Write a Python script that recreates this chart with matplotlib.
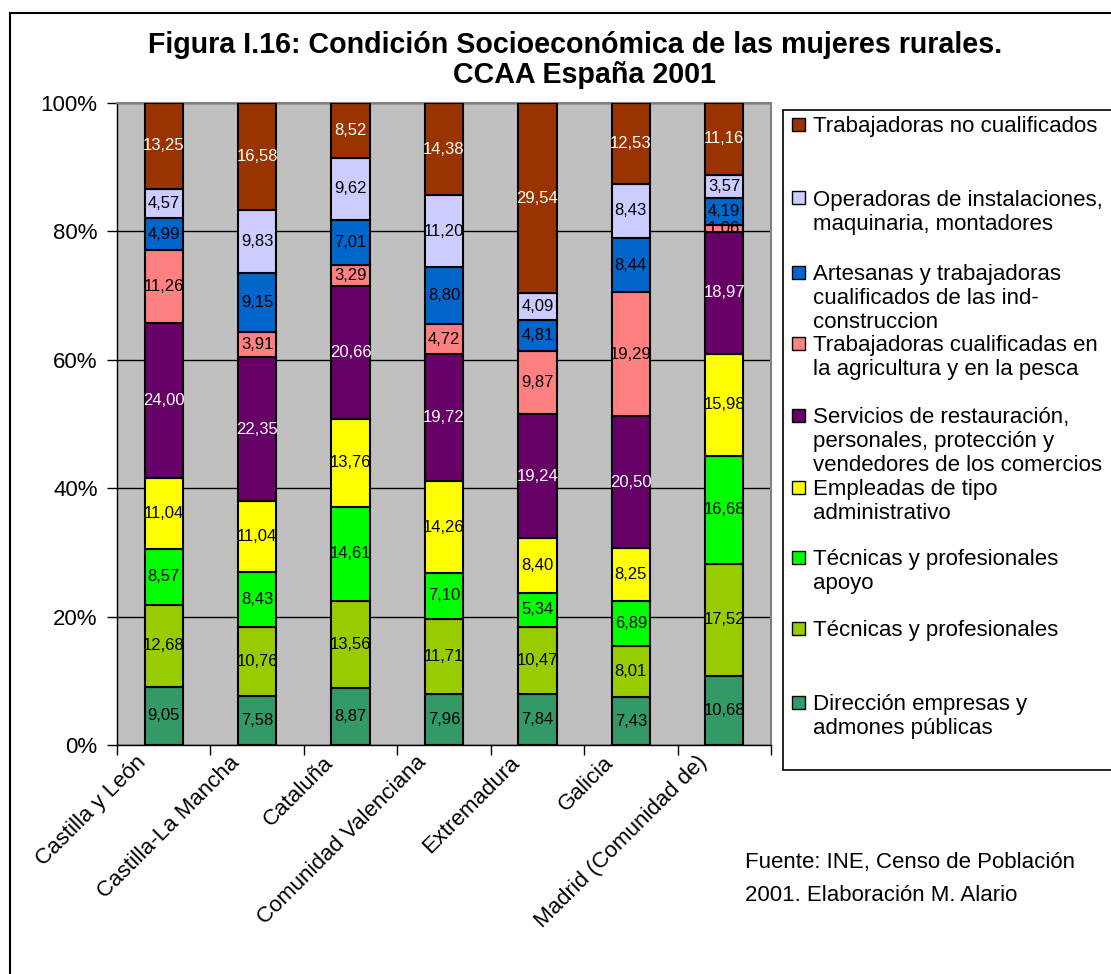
import matplotlib.pyplot as plt
import matplotlib.transforms as mtransforms
from matplotlib.patches import Rectangle
import numpy as np

plt.rcParams['font.family'] = ['Liberation Sans', 'DejaVu Sans']

# Data (bottom to top of each bar), values as printed on the chart
regiones = ['Castilla y León', 'Castilla-La Mancha', 'Cataluña', 'Comunidad Valenciana',
            'Extremadura', 'Galicia', 'Madrid (Comunidad de)']
direccion = [9.05, 7.58, 8.87, 7.96, 7.84, 7.43, 10.68]
tecnicas = [12.68, 10.76, 13.56, 11.71, 10.47, 8.01, 17.52]
tecnicas_apoyo = [8.57, 8.43, 14.61, 7.10, 5.34, 6.89, 16.68]
empleadas = [11.04, 11.04, 13.76, 14.26, 8.40, 8.25, 15.98]
servicios = [24.00, 22.35, 20.66, 19.72, 19.24, 20.50, 18.97]
agricultura = [11.26, 3.91, 3.29, 4.72, 9.87, 19.29, 1.06]
artesanas = [4.99, 9.15, 7.01, 8.80, 4.81, 8.44, 4.19]
operadoras = [4.57, 9.83, 9.62, 11.20, 4.09, 8.43, 3.57]
no_cualificados = [13.25, 16.58, 8.52, 14.38, 29.54, 12.53, 11.16]

series = [direccion, tecnicas, tecnicas_apoyo, empleadas, servicios,
          agricultura, artesanas, operadoras, no_cualificados]
nombres = ['Dirección empresas y\nadmones públicas',
           'Técnicas y profesionales',
           'Técnicas y profesionales\napoyo',
           'Empleadas de tipo\nadministrativo',
           'Servicios de restauración,\npersonales, protección y\nvendedores de los comercios',
           'Trabajadoras cualificadas en\nla agricultura y en la pesca',
           'Artesanas y trabajadoras\ncualificados de las ind-\nconstruccion',
           'Operadoras de instalaciones,\nmaquinaria, montadores',
           'Trabajadoras no cualificados']
colores = ['#339966', '#99CC00', '#00FF00', '#FFFF00', '#660066',
           '#FF8080', '#0066CC', '#CCCCFF', '#993300']
color_texto = ['black', 'black', 'black', 'black', 'white',
               'black', 'black', 'black', 'white']

W, H = 1111, 974


def fx(x):
    return x / W


def fy(y):
    return 1 - y / H


fig = plt.figure(figsize=(W / 100, H / 100), dpi=100)

# outer frame of the chart
fig.patches.append(Rectangle((fx(10), -0.01), 1.05, fy(13) + 0.01, transform=fig.transFigure,
                             fill=False, edgecolor='black', linewidth=1.5))

ax = fig.add_axes([fx(117), fy(745), fx(771) - fx(117), fy(103) - fy(745)])
ax.set_facecolor('#C0C0C0')

datos = np.array(series)
totales = datos.sum(axis=0)
pct = datos / totales * 100
x = np.arange(len(regiones))
base = np.zeros(len(regiones))
for i in range(len(series)):
    ax.bar(x, pct[i], 0.41, bottom=base, color=colores[i], edgecolor='black',
           linewidth=1.5, zorder=3)
    for j in range(len(regiones)):
        etiqueta = f'{datos[i][j]:.2f}'.replace('.', ',')
        ax.text(x[j], base[j] + pct[i][j] / 2, etiqueta, ha='center', va='center',
                fontsize=12, color=color_texto[i], zorder=4)
    base = base + pct[i]

ax.set_xlim(-0.5, len(regiones) - 0.5)
ax.set_ylim(0, 100)
ax.set_yticks([0, 20, 40, 60, 80, 100])
ax.set_yticklabels(['0%', '20%', '40%', '60%', '80%', '100%'], fontsize=16)
ax.yaxis.grid(True, color='black', linewidth=1, zorder=1)
ax.set_axisbelow(True)
ax.tick_params(axis='y', direction='out', length=7, width=1, pad=7)

ax.set_xticks(x)
ax.set_xticklabels(regiones, fontsize=16, rotation=45, ha='right', rotation_mode='anchor')
ax.set_xticks(np.arange(-0.5, len(regiones)), minor=True)
ax.tick_params(axis='x', which='major', length=0, pad=5)
ax.tick_params(axis='x', which='minor', direction='out', length=7, width=1)
desplaza = mtransforms.ScaledTranslation(-28 / 100, 0, fig.dpi_scale_trans)
for lab in ax.get_xticklabels():
    lab.set_transform(lab.get_transform() + desplaza)

for lado in ['left', 'bottom']:
    ax.spines[lado].set_color('black')
    ax.spines[lado].set_linewidth(1)
for lado in ['top', 'right']:
    ax.spines[lado].set_color('#808080')
    ax.spines[lado].set_linewidth(1.5)

# title
fig.text(fx(575), fy(45), 'Figura I.16: Condición Socioeconómica de las mujeres rurales.',
         ha='center', va='center', fontsize=20.6, fontweight='bold')
fig.text(fx(584), fy(75), 'CCAA España 2001', ha='center', va='center',
         fontsize=20.6, fontweight='bold')

# legend box, drawn by hand to keep the original layout
fig.patches.append(Rectangle((fx(783), fy(770)), 0.5, fy(110) - fy(770), transform=fig.transFigure,
                             facecolor='white', edgecolor='black', linewidth=1.2))
filas = [124, 198, 272, 343, 415, 487, 557, 628, 702]
for k, i in enumerate(reversed(range(len(series)))):
    y0 = filas[k]
    fig.patches.append(Rectangle((fx(792), fy(y0 + 6.5)), fx(13), 13 / H, transform=fig.transFigure,
                                 facecolor=colores[i], edgecolor='black', linewidth=1))
    for n, linea in enumerate(nombres[i].split('\n')):
        fig.text(fx(813), fy(y0 + n * 24), linea, ha='left', va='center_baseline', fontsize=16)

# source
fig.text(fx(745), fy(860), 'Fuente: INE, Censo de Población', ha='left', va='center_baseline',
         fontsize=16)
fig.text(fx(745), fy(893), '2001. Elaboración M. Alario', ha='left', va='center_baseline',
         fontsize=16)

fig.savefig('out.png', dpi=100)
